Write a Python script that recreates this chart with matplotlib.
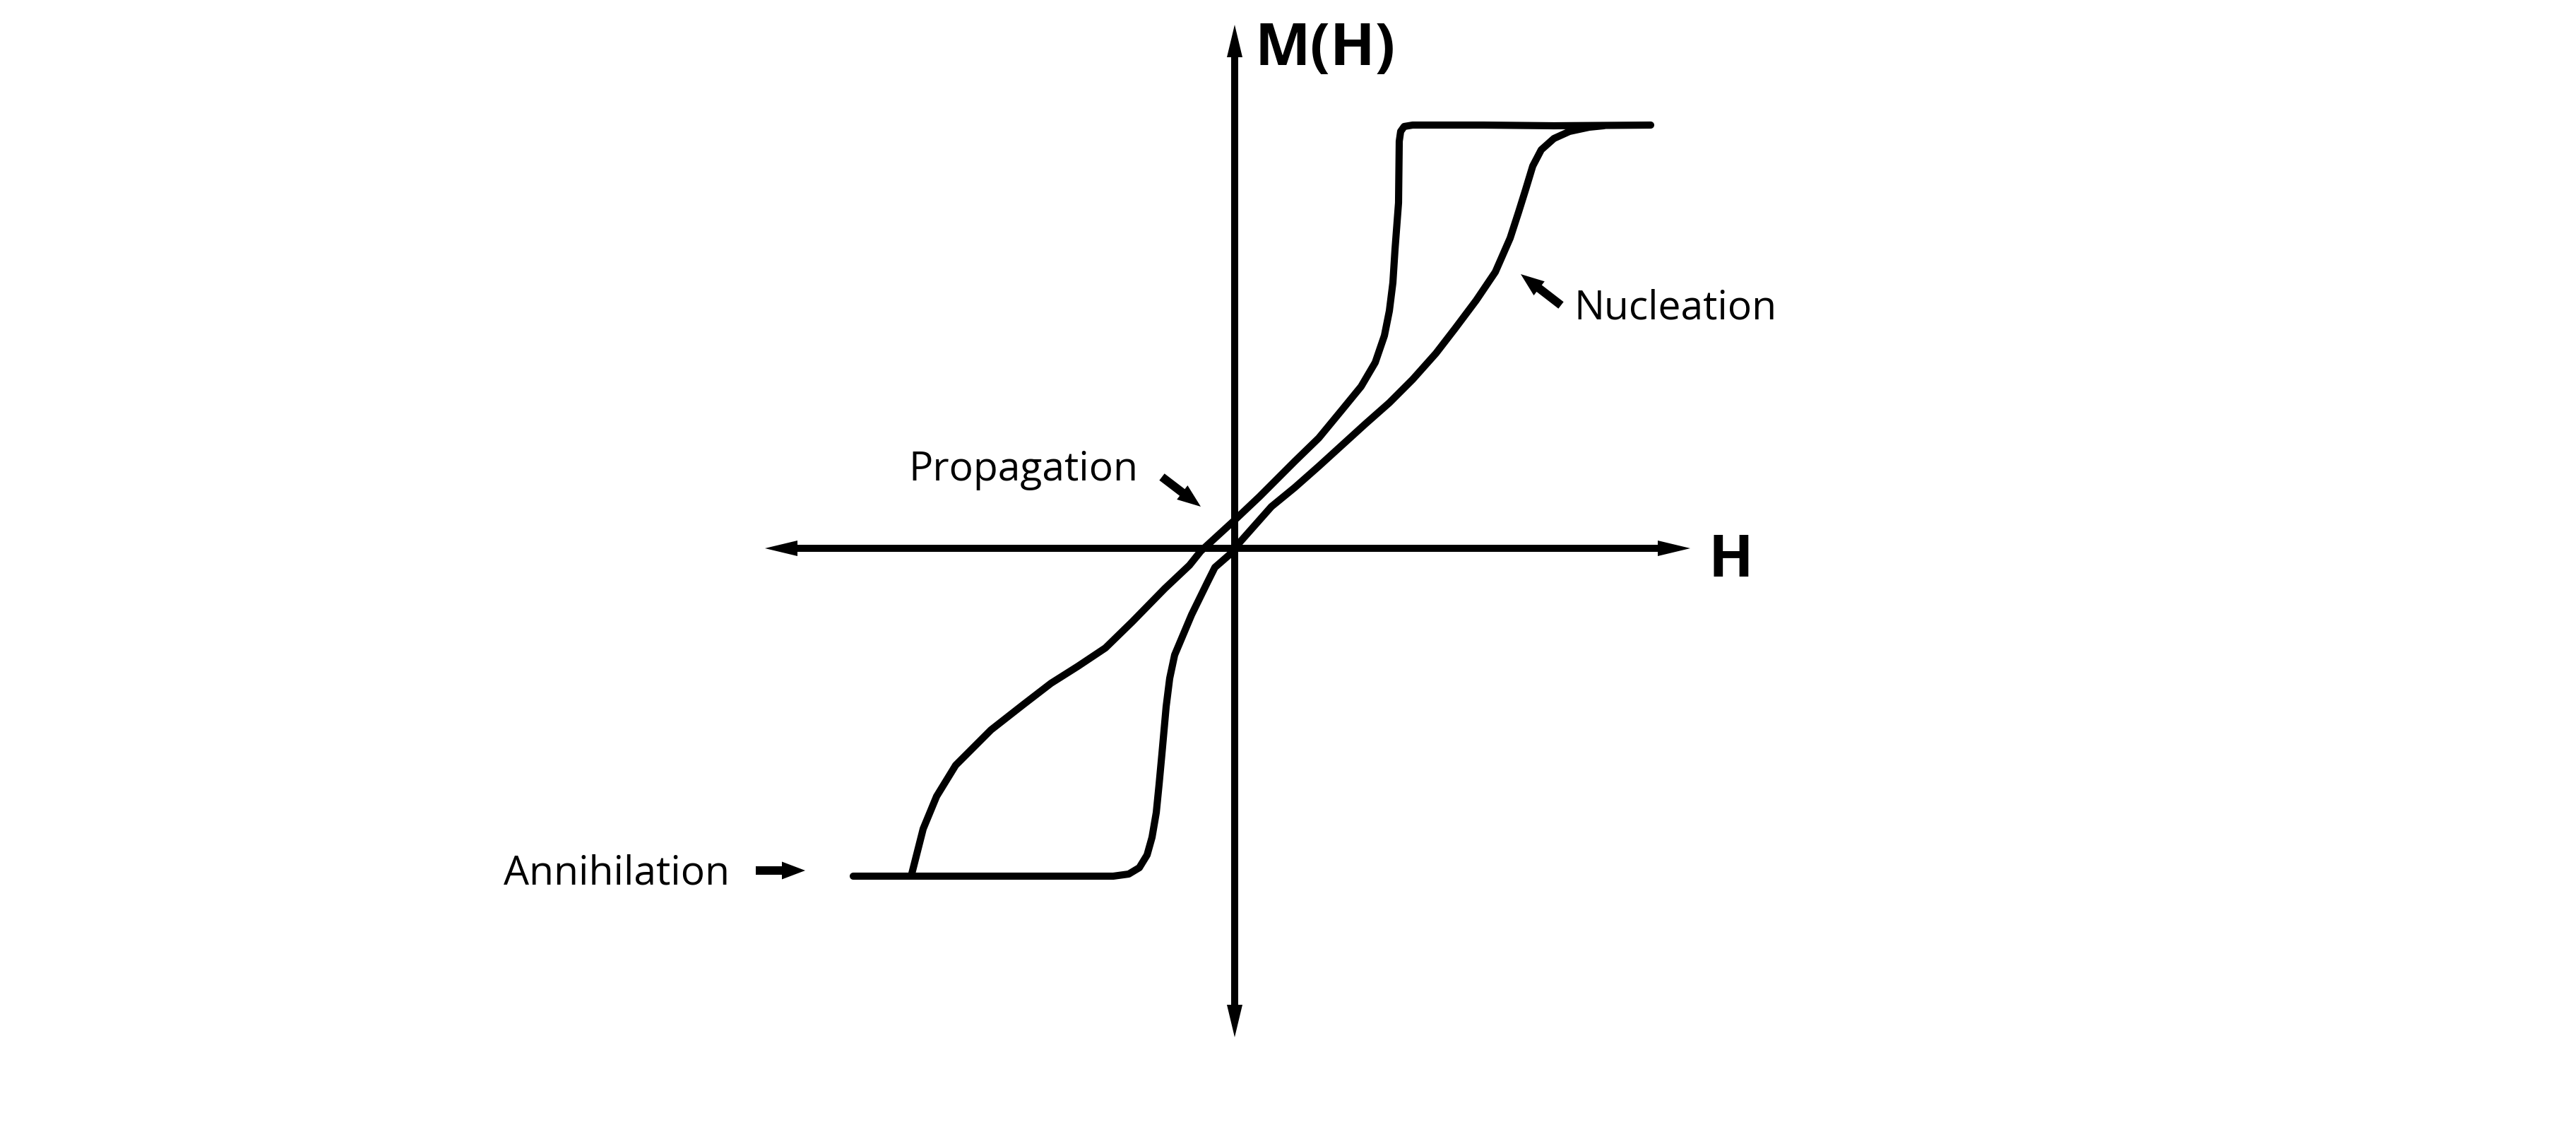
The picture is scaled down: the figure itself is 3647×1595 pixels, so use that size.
import matplotlib.pyplot as plt

# Hysteresis loop sketch, units: 1 unit = 100 px of the original drawing,
# origin at the axis crossing.

# descending branch (top plateau -> steep drop -> propagation -> annihilation)
desc_h = [5.89, 4.52, 3.52, 2.52, 2.40, 2.35, 2.33, 2.32, 2.27, 2.24, 2.19,
          2.12, 1.99, 1.79, 1.52, 1.19, 0.85, 0.35, -0.01, -0.48, -0.64,
          -0.99, -1.45, -1.83, -2.22, -2.60, -2.99, -3.45, -3.95, -4.22,
          -4.41, -4.58]
desc_m = [5.99, 5.98, 5.99, 5.99, 5.97, 5.90, 5.76, 4.89, 4.23, 3.76, 3.36,
          3.01, 2.63, 2.29, 1.96, 1.56, 1.23, 0.73, 0.39, -0.04, -0.24,
          -0.57, -1.04, -1.41, -1.67, -1.91, -2.21, -2.57, -3.07, -3.51,
          -3.97, -4.64]

# ascending branch (bottom plateau -> steep rise -> nucleation -> top)
asc_h = [-5.40, -3.48, -1.72, -1.50, -1.35, -1.24, -1.17, -1.11, -1.07,
         -1.03, -0.97, -0.92, -0.85, -0.61, -0.38, -0.28, -0.05, 0.05, 0.52,
         0.85, 1.19, 1.52, 1.85, 2.19, 2.52, 2.85, 3.12, 3.42, 3.69, 3.90,
         4.02, 4.12, 4.22, 4.34, 4.52, 4.74, 5.02, 5.22]
asc_m = [-4.64, -4.64, -4.64, -4.61, -4.52, -4.34, -4.09, -3.74, -3.34,
         -2.91, -2.24, -1.84, -1.51, -0.94, -0.47, -0.27, -0.07, 0.06, 0.59,
         0.86, 1.16, 1.46, 1.76, 2.06, 2.39, 2.76, 3.11, 3.51, 3.91, 4.39,
         4.76, 5.08, 5.41, 5.64, 5.80, 5.90, 5.96, 5.98]

# axis arrow ends
h_axis = (-6.65, 6.45)
m_axis = (-6.92, 7.41)

# annotations: label, text position, arrow tail, arrow tip
notes = [
    ("Nucleation", (4.80, 3.24), (4.62, 3.44), (4.05, 3.88)),
    ("Propagation", (-4.62, 0.96), (-1.03, 1.01), (-0.48, 0.59)),
    ("Annihilation", (-10.35, -4.76), (-6.78, -4.56), (-6.08, -4.56)),
]

fig = plt.figure(figsize=(36.47, 15.95), dpi=100)
ax = fig.add_axes([0, 0, 1, 1])
ax.set_xlim(-17.48, 18.99)
ax.set_ylim(-8.19, 7.76)
ax.axis("off")

# axes with arrow heads at both ends
for end in h_axis:
    ax.arrow(0, 0, end, 0, width=0.10, head_width=0.22, head_length=0.46,
             length_includes_head=True, color="black", lw=0)
for end in m_axis:
    ax.arrow(0, 0, 0, end, width=0.10, head_width=0.22, head_length=0.46,
             length_includes_head=True, color="black", lw=0)

ax.plot(desc_h, desc_m, color="black", lw=7.3, solid_joinstyle="round",
        solid_capstyle="round")
ax.plot(asc_h, asc_m, color="black", lw=7.3, solid_joinstyle="round",
        solid_capstyle="round")

ax.text(0.28, 6.84, "M(H)", fontsize=60, fontweight="bold",
        family="Open Sans", va="baseline", ha="left")
ax.text(6.70, -0.40, "H", fontsize=60, fontweight="bold",
        family="Open Sans", va="baseline", ha="left")

for label, pos, tail, tip in notes:
    ax.text(pos[0], pos[1], label, fontsize=41, family="Open Sans",
            va="baseline", ha="left")
    ax.arrow(tail[0], tail[1], tip[0] - tail[0], tip[1] - tail[1],
             width=0.12, head_width=0.25, head_length=0.33,
             length_includes_head=True, color="black", lw=0)

fig.savefig("out.png", dpi=100, facecolor="white")
